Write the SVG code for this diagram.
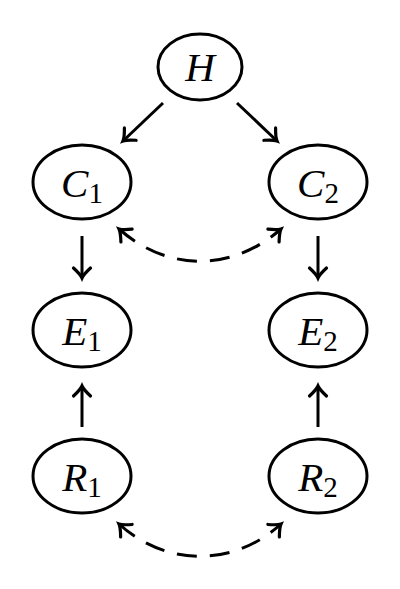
<svg xmlns="http://www.w3.org/2000/svg" width="400" height="589" viewBox="0 0 400 589">
<style>
.node ellipse{fill:#fff;stroke:#000;stroke-width:3}
.lbl{font-family:"Liberation Serif","Times New Roman",serif;font-style:italic;font-size:41px;fill:#000;text-anchor:middle}
.sub{font-style:normal;font-size:29px}
.edge{fill:none;stroke:#000;stroke-width:3}
.dash{stroke-dasharray:20 13}
</style>
<defs>
<marker id="ah" markerUnits="userSpaceOnUse" viewBox="-12 -10 14 20" markerWidth="14" markerHeight="20" refX="0" refY="0" orient="auto-start-reverse" overflow="visible">
<path d="M -10,-8.5 Q -3.5,-1.5 0,0 Q -3.5,1.5 -10,8.5" fill="none" stroke="#000" stroke-width="3.2" stroke-linecap="round" stroke-dasharray="none"/>
</marker>
</defs>
<g id="connectors">
<line class="edge" x1="163" y1="103" x2="123" y2="141" marker-end="url(#ah)"/>
<line class="edge" x1="237" y1="103" x2="277" y2="141" marker-end="url(#ah)"/>
<line class="edge" x1="82" y1="236" x2="82" y2="278" marker-end="url(#ah)"/>
<line class="edge" x1="318" y1="236" x2="318" y2="278" marker-end="url(#ah)"/>
<line class="edge" x1="82" y1="427" x2="82" y2="386" marker-end="url(#ah)"/>
<line class="edge" x1="318" y1="427" x2="318" y2="386" marker-end="url(#ah)"/>
<path class="edge dash" d="M 119,229 C 168,272 232,272 281,229" marker-start="url(#ah)" marker-end="url(#ah)"/>
<path class="edge dash" d="M 119,524 C 166,567 234,567 281,524" marker-start="url(#ah)" marker-end="url(#ah)"/>
</g>
<g id="H" class="node"><ellipse cx="200" cy="67" rx="42" ry="33"/><text class="lbl" x="200" y="81">H</text></g>
<g id="C1" class="node"><ellipse cx="82" cy="182" rx="49" ry="37"/><text class="lbl" x="82" y="197">C<tspan class="sub" dy="6">1</tspan></text></g>
<g id="C2" class="node"><ellipse cx="318" cy="182" rx="49" ry="37"/><text class="lbl" x="318" y="197">C<tspan class="sub" dy="6">2</tspan></text></g>
<g id="E1" class="node"><ellipse cx="82" cy="330" rx="49" ry="37"/><text class="lbl" x="82" y="345">E<tspan class="sub" dy="6">1</tspan></text></g>
<g id="E2" class="node"><ellipse cx="318" cy="330" rx="49" ry="37"/><text class="lbl" x="318" y="345">E<tspan class="sub" dy="6">2</tspan></text></g>
<g id="R1" class="node"><ellipse cx="82" cy="476" rx="49" ry="37"/><text class="lbl" x="82" y="491">R<tspan class="sub" dy="6">1</tspan></text></g>
<g id="R2" class="node"><ellipse cx="318" cy="476" rx="49" ry="37"/><text class="lbl" x="318" y="491">R<tspan class="sub" dy="6">2</tspan></text></g>
</svg>
